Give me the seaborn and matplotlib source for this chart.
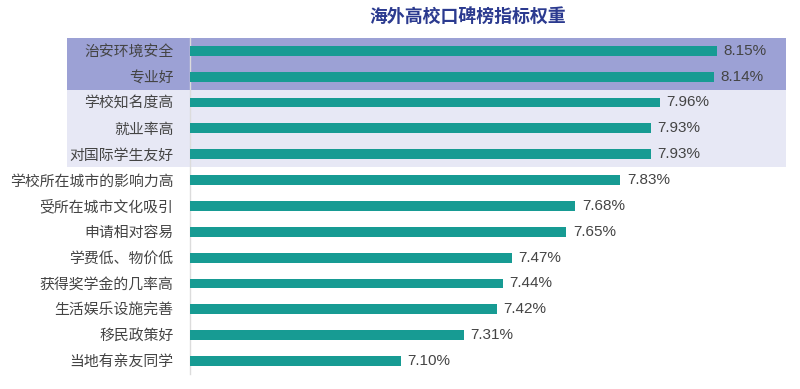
import matplotlib
matplotlib.use("Agg")
import matplotlib.pyplot as plt
import matplotlib.transforms as mtransforms
from matplotlib.patches import Rectangle
import seaborn as sns
import pandas as pd

categories = ["治安环境安全", "专业好", "学校知名度高", "就业率高", "对国际学生友好",
              "学校所在城市的影响力高", "受所在城市文化吸引", "申请相对容易",
              "学费低、物价低", "获得奖学金的几率高", "生活娱乐设施完善",
              "移民政策好", "当地有亲友同学"]
values = [8.15, 8.14, 7.96, 7.93, 7.93, 7.83, 7.68, 7.65, 7.47, 7.44, 7.42, 7.31, 7.10]
title = "海外高校口碑榜指标权重"

sns.set_theme(style="white")
plt.rcParams['font.family'] = ['Noto Sans CJK SC', 'DejaVu Sans']

bar_color = "#179b93"
dark_band = "#9ca1d5"
light_band = "#e7e8f5"
text_color = "#444444"

df = pd.DataFrame({"cat": categories, "val": values})

fig = plt.figure(figsize=(8, 3.89), dpi=100)
ax = fig.add_axes([190/800, 1-374/389, 598/800, (374-37.8)/389])

sns.barplot(data=df, x="val", y="cat", orient="h", color=bar_color,
            width=0.38, ax=ax, saturation=1, zorder=3, linewidth=0, edgecolor="none")

ax.set_xlim(6.4, 6.4 + 598/301)
ax.set_ylim(len(categories) - 0.5, -0.5)

trans = mtransforms.blended_transform_factory(ax.transAxes, ax.transData)
x0 = (67 - 190) / 598
x1 = (786 - 190) / 598
ax.add_patch(Rectangle((x0, -0.5), x1 - x0, 2.0, transform=trans,
                       facecolor=dark_band, edgecolor="none", clip_on=False, zorder=0))
ax.add_patch(Rectangle((x0, 1.5), x1 - x0, 3.0, transform=trans,
                       facecolor=light_band, edgecolor="none", clip_on=False, zorder=0))

for i, v in enumerate(values):
    ax.text(v + 0.022, i, f"{v:.2f}%", va="center", ha="left",
            fontsize=11, color=text_color, family=["Liberation Sans", "DejaVu Sans"],
            zorder=4)

ax.set_xlabel("")
ax.set_ylabel("")
ax.set_xticks([])
ax.tick_params(axis="y", length=0, pad=12, labelsize=10.7, labelcolor=text_color)
for s in ["top", "right", "bottom"]:
    ax.spines[s].set_visible(False)
ax.spines["left"].set_color("#dcdcdc")
ax.spines["left"].set_linewidth(1.0)
ax.spines["left"].set_zorder(2)
ax.patch.set_alpha(0)

fig.text(468/800, 1 - 17/389, title, ha="center", va="center",
         fontsize=12.9, fontweight="bold", color="#2b3a8f")

fig.savefig("out.png", dpi=100, facecolor="white")
